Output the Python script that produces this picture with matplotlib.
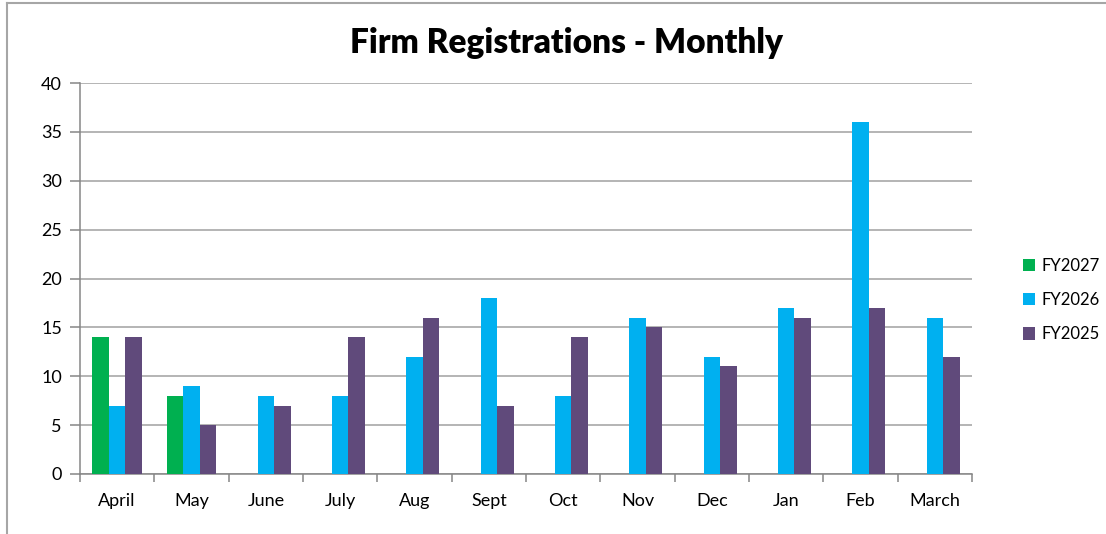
import matplotlib
matplotlib.use("Agg")
import matplotlib.pyplot as plt
import numpy as np
from matplotlib.lines import Line2D

months = ["April", "May", "June", "July", "Aug", "Sept", "Oct", "Nov", "Dec", "Jan", "Feb", "March"]
fy2027 = [14, 8, np.nan, np.nan, np.nan, np.nan, np.nan, np.nan, np.nan, np.nan, np.nan, np.nan]
fy2026 = [7, 9, 8, 8, 12, 18, 8, 16, 12, 17, 36, 16]
fy2025 = [14, 5, 7, 14, 16, 7, 14, 15, 11, 16, 17, 12]
series_names = ["FY2027", "FY2026", "FY2025"]
colors = ["#00B050", "#00B0F0", "#604A7B"]

plt.rcParams['font.family'] = ['Lato', 'DejaVu Sans']

W, H = 1106, 534
fig = plt.figure(figsize=(W / 100, H / 100), dpi=100)
ax = fig.add_axes([80 / W, 1 - 474 / H, (972 - 80) / W, (474 - 83) / H])

x = np.arange(len(months))
bw = 0.224
for i, (vals, name, c) in enumerate(zip([fy2027, fy2026, fy2025], series_names, colors)):
    ax.bar(x + (i - 1) * bw, vals, width=bw, color=c, label=name, zorder=3)

ax.set_xlim(-0.5, len(months) - 0.5)
ax.set_ylim(0, 40)
ax.set_yticks(np.arange(0, 41, 5))
ax.yaxis.grid(True, color="#A0A0A0", linewidth=1.1, zorder=0)
ax.set_axisbelow(True)

ax.set_xticks(x)
ax.set_xticklabels(months)
ax.set_xticks(np.arange(-0.5, len(months)), minor=True)
ax.tick_params(axis="x", which="major", length=0, pad=14, labelsize=13)
ax.tick_params(axis="x", which="minor", length=6, color="#868686", width=1.1)
ax.tick_params(axis="y", length=7, color="#868686", width=1.1, labelsize=13, pad=6)

for s in ["top", "right"]:
    ax.spines[s].set_visible(False)
for s in ["left", "bottom"]:
    ax.spines[s].set_color("#868686")
    ax.spines[s].set_linewidth(1.1)

fig.text(566 / W, 1 - 43 / H, "Firm Registrations - Monthly", ha="center", va="center",
         fontsize=24, fontweight="heavy")

leg = ax.legend(loc="center left", bbox_to_anchor=(1016 / W, 1 - 300 / H), bbox_transform=fig.transFigure,
                frameon=False, fontsize=12, handlelength=0.75, handleheight=0.75,
                handletextpad=0.4, labelspacing=1.1, borderaxespad=0)

# chart frame
fig.add_artist(Line2D([7 / W, 7 / W], [0, 1 - 3 / H], color="#A6A6A6", lw=1.5, transform=fig.transFigure))
fig.add_artist(Line2D([7 / W, 1], [1 - 3 / H, 1 - 3 / H], color="#A6A6A6", lw=1.5, transform=fig.transFigure))

fig.savefig("out.png", dpi=100)
